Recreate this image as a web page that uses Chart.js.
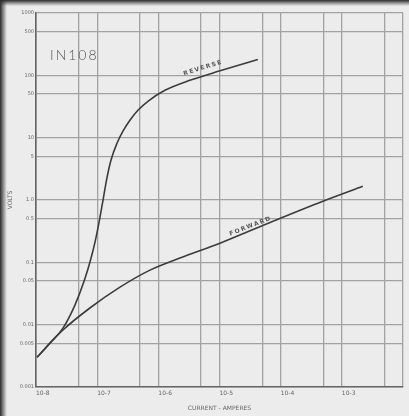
<!DOCTYPE html>
<html>
<head>
<meta charset="utf-8">
<script src="https://cdn.jsdelivr.net/npm/chart.js@4/dist/chart.umd.min.js"></script>
<style>
    body { margin: 0; background: #ececec; }
    #wrap { width: 409px; height: 416px; }
</style>
</head>
<body>
<div id="wrap"><canvas id="myChart" width="409" height="416"></canvas></div>
<script>
// reverse characteristic (current in A, voltage in V)
var reverseCurrent = [1.04e-8, 1.7e-8, 2.76e-8, 4.33e-8, 6.2e-8, 7.77e-8, 9.38e-8, 1.09e-7, 1.245e-7, 1.42e-7, 1.68e-7, 2.11e-7, 2.64e-7, 3.43e-7, 4.64e-7, 6.76e-7, 1.28e-6, 3.28e-6, 1.02e-5, 4.24e-5]
var reverseVolts   = [0.003, 0.0051, 0.0088, 0.0206, 0.0519, 0.108, 0.227, 0.474, 0.99, 2.07, 4.35, 8.13, 12.7, 19.0, 27.5, 38.3, 57.5, 83.2, 118, 180]

// forward characteristic
var forwardCurrent = [1.04e-8, 2.76e-8, 7.6e-8, 2.36e-7, 7.3e-7, 2.25e-6, 1.02e-5, 7.5e-5, 4.9e-4, 2.2e-3]
var forwardVolts   = [0.003, 0.0082, 0.0185, 0.040, 0.075, 0.117, 0.203, 0.457, 0.957, 1.66]

var xTickValues = [1e-8, 5e-8, 1e-7, 5e-7, 1e-6, 5e-6, 1e-5, 5e-5, 1e-4, 5e-4, 1e-3, 5e-3, 1e-2]
var xTickLabels = ['10-8', '', '10-7', '', '10-6', '', '10-5', '', '10-4', '', '10-3', '', '']

var yTickValues = [0.001, 0.005, 0.01, 0.05, 0.1, 0.5, 1, 5, 10, 50, 100, 500, 1000]
var yTickLabels = ['0.001', '0.005', '0.01', '0.05', '0.1', '0.5', '1.0', '5', '10', '50', '100', '500', '1000']

function toPoints(xs, ys) {
    let pts = []
    for (var i = 0; i < xs.length; i++) {
        pts.push({ x: xs[i], y: ys[i] })
    }
    return pts
}

// scanned paper look + curve annotations
var paperPlugin = {
    id: 'paper',
    beforeDraw: function (chart) {
        let ctx = chart.ctx
        ctx.save()
        ctx.fillStyle = '#ececec'
        ctx.fillRect(0, 0, chart.width, chart.height)
        let g = ctx.createLinearGradient(0, 0, 7, 0)
        g.addColorStop(0, '#2a2a2a')
        g.addColorStop(1, 'rgba(60,60,60,0)')
        ctx.fillStyle = g
        ctx.fillRect(0, 0, 7, chart.height)
        let g2 = ctx.createLinearGradient(0, 0, 0, 6)
        g2.addColorStop(0, '#2a2a2a')
        g2.addColorStop(1, 'rgba(60,60,60,0)')
        ctx.fillStyle = g2
        ctx.fillRect(0, 0, chart.width, 6)
        ctx.restore()
    },
    afterDraw: function (chart) {
        let ctx = chart.ctx
        let xs = chart.scales.x
        let ys = chart.scales.y
        ctx.save()
        ctx.fillStyle = '#555'
        ctx.textAlign = 'left'
        ctx.textBaseline = 'alphabetic'
        ctx.font = '300 14px Lato'
        ctx.letterSpacing = '2px'
        ctx.fillText('IN108', 50, 60)

        ctx.font = 'bold 6px "DejaVu Sans"'
        ctx.letterSpacing = '1.5px'
        ctx.textAlign = 'center'
        // REVERSE label above its curve
        ctx.save()
        ctx.translate(xs.getPixelForValue(5.5e-6), ys.getPixelForValue(100) - 6)
        ctx.rotate(-0.30)
        ctx.fillText('REVERSE', 0, 0)
        ctx.restore()
        // FORWARD label above its curve
        ctx.save()
        ctx.translate(xs.getPixelForValue(3.3e-5), ys.getPixelForValue(0.3) - 5)
        ctx.rotate(-0.37)
        ctx.fillText('FORWARD', 0, 0)
        ctx.restore()
        ctx.restore()
    }
}

var ctx = document.getElementById('myChart').getContext('2d')
var myChart = new Chart(ctx, {
    type: 'line',
    data: {
        datasets: [{
            label: 'Reverse',
            data: toPoints(reverseCurrent, reverseVolts),
            borderColor: '#3c3c3c',
            borderWidth: 1.6,
            pointRadius: 0,
            fill: false,
            cubicInterpolationMode: 'monotone'
        }, {
            label: 'Forward',
            data: toPoints(forwardCurrent, forwardVolts),
            borderColor: '#3c3c3c',
            borderWidth: 1.6,
            pointRadius: 0,
            fill: false,
            cubicInterpolationMode: 'monotone'
        }]
    },
    options: {
        responsive: false,
        animation: false,
        devicePixelRatio: 1,
        layout: { padding: { left: 4, top: 13, right: 6, bottom: 0 } },
        plugins: {
            legend: { display: false },
            tooltip: { enabled: false }
        },
        scales: {
            x: {
                type: 'logarithmic',
                min: 1e-8,
                max: 1e-2,
                afterBuildTicks: function (scale) {
                    scale.ticks = xTickValues.map(function (v) { return { value: v } })
                },
                afterFit: function (scale) { scale.height = 29 },
                ticks: {
                    autoSkip: false,
                    maxRotation: 0,
                    align: 'start',
                    padding: 3,
                    color: '#666',
                    font: { size: 6, family: 'DejaVu Sans' },
                    callback: function (v, i) { return xTickLabels[i] }
                },
                grid: { color: '#a2a2a2', lineWidth: 1.3, drawTicks: false },
                border: { color: '#666', width: 1.6 },
                title: {
                    display: true,
                    text: 'CURRENT - AMPERES',
                    color: '#666',
                    font: { size: 6, family: 'DejaVu Sans' },
                    padding: { top: 0, bottom: 4 }
                }
            },
            y: {
                type: 'logarithmic',
                min: 0.001,
                max: 1000,
                afterBuildTicks: function (scale) {
                    scale.ticks = yTickValues.map(function (v) { return { value: v } })
                },
                afterFit: function (scale) { scale.width = 32 },
                ticks: {
                    autoSkip: false,
                    padding: 2,
                    color: '#666',
                    font: { size: 5, family: 'DejaVu Sans' },
                    callback: function (v, i) { return yTickLabels[i] }
                },
                grid: { color: '#a2a2a2', lineWidth: 1.3, drawTicks: false },
                border: { color: '#666', width: 1.6 },
                title: {
                    display: true,
                    text: 'VOLTS',
                    color: '#666',
                    font: { size: 6, family: 'DejaVu Sans' },
                    padding: { top: 3, bottom: 0 }
                }
            }
        }
    },
    plugins: [paperPlugin]
})
</script>
</body>
</html>
